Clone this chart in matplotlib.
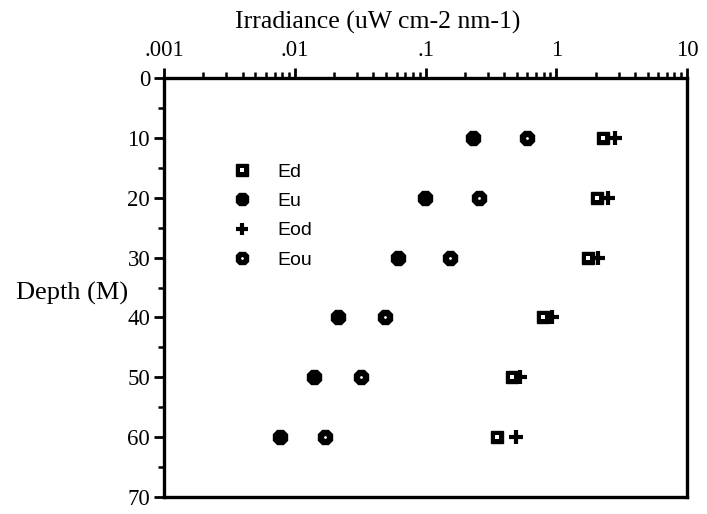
import matplotlib
matplotlib.use("Agg")
import matplotlib.pyplot as plt
from matplotlib.ticker import FixedLocator, LogLocator, NullFormatter, MultipleLocator
from matplotlib.legend_handler import HandlerTuple
from matplotlib.lines import Line2D

depth = [10, 20, 30, 40, 50, 60]
ed = [2.28, 2.05, 1.75, 0.79, 0.46, 0.35]
eu = [0.23, 0.099, 0.062, 0.0214, 0.014, 0.0077]
eod = [2.81, 2.49, 2.09, 0.93, 0.53, 0.49]
eou = [0.60, 0.257, 0.154, 0.049, 0.032, 0.017]
xticks = [0.001, 0.01, 0.1, 1, 10]
xticklabels = [".001", ".01", ".1", "1", "10"]
yticks = [0, 10, 20, 30, 40, 50, 60, 70]

serif = "Liberation Serif"
sans = "Liberation Sans"

fig = plt.figure(figsize=(7.07, 5.14), dpi=100)
ax = fig.add_axes([0.232, 0.033, 0.7397, 0.8152])
ax.set_xscale("log")
ax.set_xlim(0.001, 10)
ax.set_ylim(70, 0)

ax.plot(eod, depth, linestyle="none", marker="+", markersize=9.5, markeredgewidth=3, color="black", zorder=3)
ax.plot(ed, depth, linestyle="none", marker="s", markersize=9, color="black", zorder=4)
ax.plot(ed, depth, linestyle="none", marker="s", markersize=2.3, markeredgewidth=0, color="white", zorder=5)
ax.plot(eu, depth, linestyle="none", marker="8", markersize=10.5, color="black", zorder=4)
ax.plot(eou, depth, linestyle="none", marker="8", markersize=10.5, color="black", zorder=4)
ax.plot(eou, depth, linestyle="none", marker="o", markersize=2.0, color="white", markeredgewidth=0, zorder=5)

ax.xaxis.tick_top()
ax.xaxis.set_label_position("top")
ax.xaxis.set_major_locator(FixedLocator(xticks))
ax.set_xticklabels(xticklabels, fontfamily=serif, fontsize=16.5)
ax.xaxis.set_minor_locator(LogLocator(base=10, subs=range(2, 10), numticks=20))
ax.xaxis.set_minor_formatter(NullFormatter())
ax.set_xlabel("Irradiance (uW cm-2 nm-1)", fontfamily=serif, fontsize=18.5)
ax.xaxis.set_label_coords(0.409, 1.117)

ax.yaxis.set_major_locator(FixedLocator(yticks))
ax.yaxis.set_minor_locator(MultipleLocator(5))
ax.set_yticklabels([str(v) for v in yticks], fontfamily=serif, fontsize=16.5)
ax.set_ylabel("Depth (M)", fontfamily=serif, fontsize=19, rotation=0, ha="right", va="center")
ax.yaxis.set_label_coords(-0.069, 0.485)

ax.tick_params(axis="x", which="major", direction="out", length=7, width=2, pad=5)
ax.tick_params(axis="y", which="major", direction="out", length=7, width=2, pad=3)
ax.tick_params(axis="both", which="minor", direction="out", length=4, width=1.8)
for s in ax.spines.values():
    s.set_linewidth(2.4)

h_ed = (Line2D([], [], linestyle="none", marker="s", markersize=8, color="black"),
        Line2D([], [], linestyle="none", marker="s", markersize=2.2, markeredgewidth=0, color="white"))
h_eu = Line2D([], [], linestyle="none", marker="8", markersize=9.5, color="black")
h_eod = Line2D([], [], linestyle="none", marker="+", markersize=9, markeredgewidth=3, color="black")
h_eou = (Line2D([], [], linestyle="none", marker="8", markersize=9.5, color="black"),
         Line2D([], [], linestyle="none", marker="o", markersize=2.0, markeredgewidth=0, color="white"))
ax.legend([h_ed, h_eu, h_eod, h_eou], ["Ed", "Eu", "Eod", "Eou"],
          handler_map={tuple: HandlerTuple(ndivide=1, pad=0)},
          loc="upper left", bbox_to_anchor=(0.112, 0.82), frameon=False,
          prop={"family": sans, "size": 14}, handlelength=1.0, handletextpad=1.3,
          labelspacing=0.6, borderpad=0)

fig.savefig("out.png", dpi=100)
